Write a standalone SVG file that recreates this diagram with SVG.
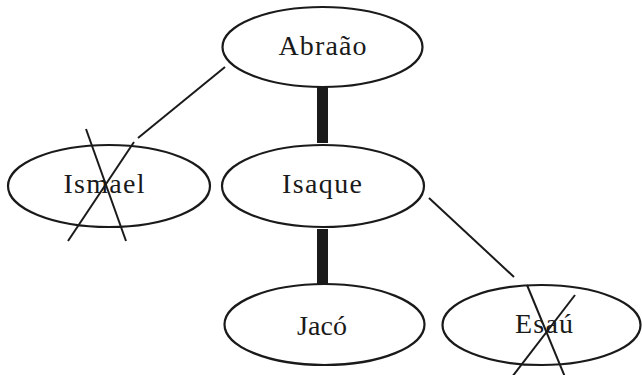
<svg xmlns="http://www.w3.org/2000/svg" width="642" height="375" viewBox="0 0 642 375">
<style>
.n ellipse{fill:#fff;stroke:#1a1a1a;stroke-width:2.2}
.n text{font-family:"Liberation Serif",serif;font-size:28px;fill:#1a1a1a;text-anchor:middle}
.c line{stroke:#1a1a1a;stroke-width:2}
.c line.thick{stroke-width:11}
</style>
<rect width="642" height="375" fill="#fff"/>
<g class="c" id="connectors">
<line class="thick" x1="322.5" y1="87" x2="322.5" y2="143"/>
<line class="thick" x1="322.5" y1="229" x2="322.5" y2="284"/>
<line x1="225" y1="67" x2="138" y2="138"/>
<line x1="429" y1="198" x2="514" y2="277"/>
</g>
<g class="n" id="abraao">
<ellipse cx="322.5" cy="47" rx="100" ry="40"/>
<text x="322.5" y="55" textLength="88" lengthAdjust="spacing">Abraão</text>
</g>
<g class="n" id="isaque">
<ellipse cx="323" cy="186" rx="101" ry="41"/>
<text x="322" y="193" textLength="80" lengthAdjust="spacing">Isaque</text>
</g>
<g class="n" id="ismael">
<ellipse cx="109" cy="186" rx="101" ry="41"/>
<text x="104" y="193" textLength="81" lengthAdjust="spacing">Ismael</text>
<g class="c"><line x1="86" y1="129" x2="126" y2="241"/><line x1="134" y1="142" x2="68" y2="241"/></g>
</g>
<g class="n" id="jaco">
<ellipse cx="324.5" cy="324.5" rx="100" ry="40.5"/>
<text x="322" y="335" textLength="50" lengthAdjust="spacing">Jacó</text>
</g>
<g class="n" id="esau">
<ellipse cx="541.5" cy="325" rx="99" ry="40"/>
<text x="544" y="333" textLength="58" lengthAdjust="spacing">Esaú</text>
<g class="c"><line x1="527" y1="285" x2="565" y2="377"/><line x1="575" y1="295" x2="512" y2="377"/></g>
</g>
</svg>
